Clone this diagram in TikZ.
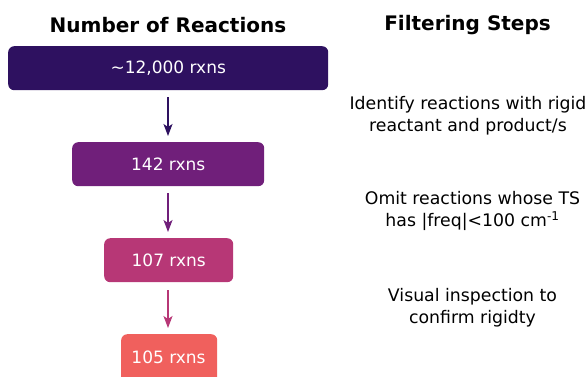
\documentclass[tikz,border=0pt]{standalone}
\usepackage{fontspec}
\setmainfont{DejaVu Sans}
\usetikzlibrary{arrows.meta}
\definecolor{cA}{RGB}{46,17,96}
\definecolor{cB}{RGB}{112,31,122}
\definecolor{cC}{RGB}{183,55,118}
\definecolor{cD}{RGB}{240,96,93}
\tikzset{
  rx/.style={rounded corners=6pt, inner sep=0pt, anchor=north west},
  rxtext/.style={text=white, font=\fontsize{17}{20}\selectfont},
  head/.style={font=\fontsize{20}{24}\selectfont\bfseries},
  stepnote/.style={font=\fontsize{17.3}{22}\selectfont, align=center},
  flow/.style={-{Stealth[length=12pt,width=9pt,inset=3pt]}, line width=1.5pt}
}
\begin{document}
\begin{tikzpicture}[x=1pt,y=-1pt]
\useasboundingbox (0,0) rectangle (588,376);
\node[head] (h1) at (168,25) {Number of Reactions};
\node[head] (h2) at (467.5,25) {Filtering Steps};
\node[rx, fill=cA, minimum width=320pt, minimum height=44pt] (b1) at (8,46) {};
\node[rxtext] (t1) at (b1.center) {{\char"007E}12,000 rxns};
\node[rx, fill=cB, minimum width=192pt, minimum height=44pt] (b2) at (72,142) {};
\node[rxtext] (t2) at (b2.center) {142 rxns};
\node[rx, fill=cC, minimum width=129pt, minimum height=44pt] (b3) at (104,238) {};
\node[rxtext] (t3) at (b3.center) {107 rxns};
\node[rx, fill=cD, minimum width=96pt, minimum height=50pt] (b4) at (121,334) {};
\node[rxtext] (t4) at (168.5,357) {105 rxns};
\coordinate (a1s) at (168,97);  \coordinate (a1e) at (168,136);
\coordinate (a2s) at (168,193); \coordinate (a2e) at (168,232);
\coordinate (a3s) at (168,290); \coordinate (a3e) at (168,328);
\draw[flow, cA] (a1s) -- (a1e);
\draw[flow, cB] (a2s) -- (a2e);
\draw[flow, cC] (a3s) -- (a3e);
\node[stepnote] (s1) at (468,116) {Identify reactions with rigid\\reactant and product/s};
\node[stepnote] (s2) at (472.5,211) {Omit reactions whose TS\\has |freq|<100 cm\textsuperscript{-1}};
\node[stepnote] (s3) at (472.5,308) {Visual inspection to\\confirm rigidty};
\end{tikzpicture}
\end{document}
